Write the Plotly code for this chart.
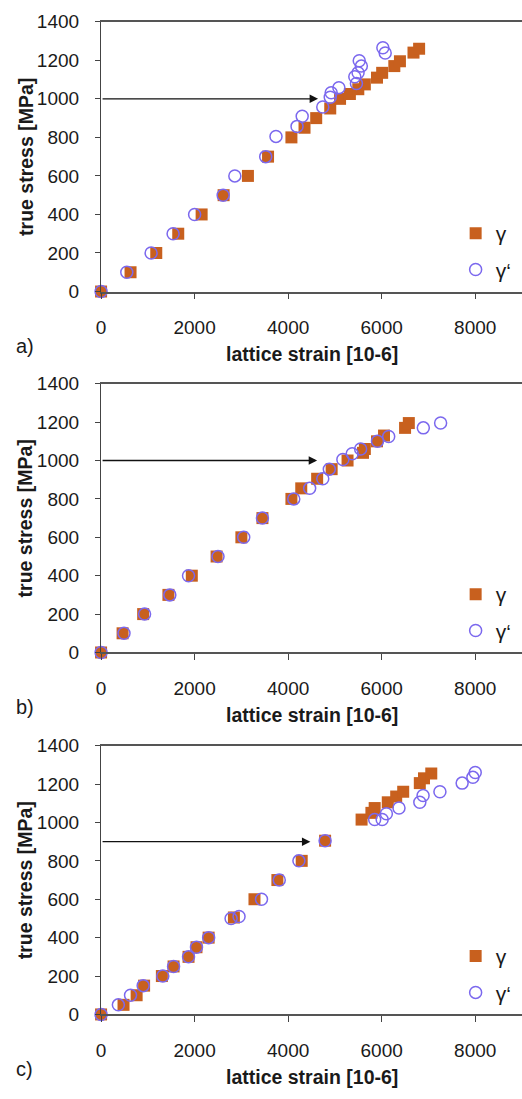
import plotly.graph_objects as go

# ---------------- data ----------------
panel_labels = ["a)", "b)", "c)"]
series_names = ["γ", "γ‘"]

a_gamma_x = [0, 630, 1180, 1650, 2150, 2620, 3140, 3570, 4070, 4350, 4600, 4900, 5110, 5320, 5500, 5640, 5900, 6010, 6270, 6390, 6680, 6800]
a_gamma_y = [0, 100, 200, 300, 400, 500, 600, 700, 800, 850, 900, 950, 1000, 1025, 1050, 1075, 1110, 1135, 1170, 1195, 1240, 1260]
a_gprime_x = [0, 550, 1070, 1540, 2000, 2610, 2860, 3520, 3740, 4190, 4300, 4740, 4900, 4920, 5085, 5460, 5425, 5495, 5565, 5520, 6025, 6075]
a_gprime_y = [0, 100, 200, 300, 400, 500, 600, 700, 805, 857, 910, 958, 1008, 1032, 1058, 1080, 1115, 1135, 1170, 1198, 1265, 1238]

b_gamma_x = [0, 460, 900, 1440, 1940, 2470, 3000, 3450, 4070, 4280, 4620, 4930, 5270, 5600, 5640, 5900, 6050, 6500, 6580]
b_gamma_y = [0, 100, 200, 300, 400, 500, 600, 700, 800, 855, 905, 955, 1000, 1040, 1060, 1100, 1130, 1170, 1195]
b_gprime_x = [0, 490, 930, 1470, 1870, 2500, 3050, 3450, 4120, 4460, 4740, 4880, 5170, 5370, 5550, 5910, 6150, 6890, 7260]
b_gprime_y = [0, 100, 200, 300, 400, 500, 600, 700, 800, 855, 905, 955, 1005, 1035, 1060, 1100, 1125, 1170, 1195]

c_gamma_x = [0, 480, 760, 920, 1300, 1550, 1870, 2040, 2300, 2840, 3280, 3770, 4290, 4790, 5570, 5780, 5850, 6130, 6310, 6460, 6815, 6905, 7060]
c_gamma_y = [0, 50, 100, 150, 200, 250, 300, 350, 400, 505, 600, 700, 800, 905, 1015, 1050, 1075, 1105, 1135, 1160, 1205, 1230, 1255]
c_gprime_x = [0, 370, 630, 900, 1320, 1550, 1870, 2040, 2300, 2780, 2950, 3430, 3810, 4230, 4790, 5850, 6010, 6100, 6370, 6815, 6885, 7245, 7720, 7950, 8000]
c_gprime_y = [0, 50, 100, 150, 200, 250, 300, 350, 400, 500, 510, 600, 700, 800, 905, 1015, 1015, 1045, 1075, 1105, 1140, 1160, 1205, 1235, 1260]

arrow_y = [1000, 1000, 900]
arrow_x_end = [4640, 4620, 4475]

x_tickvals = [0, 2000, 4000, 6000, 8000]
y_tickvals = [0, 200, 400, 600, 800, 1000, 1200, 1400]
x_title = "lattice strain [10-6]"
y_title = "true stress [MPa]"

panels = [
    (a_gamma_x, a_gamma_y, a_gprime_x, a_gprime_y),
    (b_gamma_x, b_gamma_y, b_gprime_x, b_gprime_y),
    (c_gamma_x, c_gamma_y, c_gprime_x, c_gprime_y),
]

# ---------------- layout geometry (pixels) ----------------
W, H = 522, 1099
plot_left = 97
tops = [12, 381, 750]
bottoms = [287, 655, 1024]

SQ_COLOR = "#C8601E"
CI_COLOR = "#7B68EE"
FONT = "Liberation Sans, Arial, sans-serif"
TXT = "#1a1a1a"

fig = go.Figure()
layout = dict(
    width=W, height=H,
    margin=dict(l=0, r=0, t=0, b=0),
    paper_bgcolor="white", plot_bgcolor="white",
    font=dict(family=FONT, color=TXT, size=19),
    showlegend=True,
)
annotations = []

for i, (gx, gy, px_, py_) in enumerate(panels):
    sfx = "" if i == 0 else str(i + 1)
    xa = "x" + sfx
    ya = "y" + sfx
    leg = "legend" + sfx
    fig.add_trace(go.Scatter(
        x=gx, y=gy, mode="markers", name=series_names[0],
        xaxis=xa, yaxis=ya, legend=leg, legendgroup="g%d" % i,
        marker=dict(symbol="square", size=12, color=SQ_COLOR),
        cliponaxis=False,
    ))
    fig.add_trace(go.Scatter(
        x=px_, y=py_, mode="markers", name=series_names[1],
        xaxis=xa, yaxis=ya, legend=leg, legendgroup="p%d" % i,
        marker=dict(symbol="circle-open", size=12, color=CI_COLOR, line=dict(width=1.5)),
        cliponaxis=False,
    ))
    y0 = 1 - bottoms[i] / H
    y1 = 1 - tops[i] / H
    layout["xaxis" + sfx] = dict(
        domain=[plot_left / W, 1], anchor=ya, range=[0, 9000],
        tickvals=x_tickvals, ticks="outside", ticklen=6, tickwidth=1.2, tickcolor="#444",
        showline=True, linecolor="#555", linewidth=1.5, mirror=True,
        showgrid=False, zeroline=False, ticklabelstandoff=12,
        tickfont=dict(size=19, family=FONT, color=TXT),
    )
    layout["yaxis" + sfx] = dict(
        domain=[y0, y1], anchor=xa, range=[0, 1400],
        tickvals=y_tickvals, ticks="outside", ticklen=5, tickwidth=1.2, tickcolor="#444",
        showline=True, linecolor="#444", linewidth=1.3,
        showgrid=False, zeroline=False, ticklabelstandoff=12,
        tickfont=dict(size=19, family=FONT, color=TXT),
    )
    layout[leg] = dict(
        x=455 / W, xanchor="left",
        y=1 - (bottoms[i] - 80) / H, yanchor="top",
        bgcolor="rgba(0,0,0,0)", borderwidth=0,
        font=dict(size=21, family=FONT, color=TXT),
        tracegroupgap=6,
    )
    # arrow
    annotations.append(dict(
        x=arrow_x_end[i], y=arrow_y[i], ax=0, ay=arrow_y[i],
        xref=xa, yref=ya, axref=xa, ayref=ya,
        showarrow=True, arrowhead=2, arrowsize=1.3, arrowwidth=1.3, arrowcolor="#111",
        text="",
    ))
    # x axis title
    annotations.append(dict(
        x=(plot_left + W) / 2 / W, y=1 - (bottoms[i] + 64) / H,
        xref="paper", yref="paper", xanchor="center", yanchor="middle",
        text="<b>%s</b>" % x_title, showarrow=False,
        font=dict(size=19.5, family=FONT, color=TXT),
    ))
    # y axis title
    annotations.append(dict(
        x=20.5 / W, y=1 - (tops[i] + bottoms[i]) / 2 / H,
        xref="paper", yref="paper", xanchor="center", yanchor="middle",
        text="<b>%s</b>" % y_title, showarrow=False, textangle=-90,
        font=dict(size=19.5, family=FONT, color=TXT),
    ))
    # panel label
    annotations.append(dict(
        x=9 / W, y=1 - (bottoms[i] + 56) / H,
        xref="paper", yref="paper", xanchor="left", yanchor="middle",
        text=panel_labels[i], showarrow=False,
        font=dict(size=20, family=FONT, color=TXT),
    ))

layout["annotations"] = annotations
fig.update_layout(**layout)
fig.write_html("out.html")
